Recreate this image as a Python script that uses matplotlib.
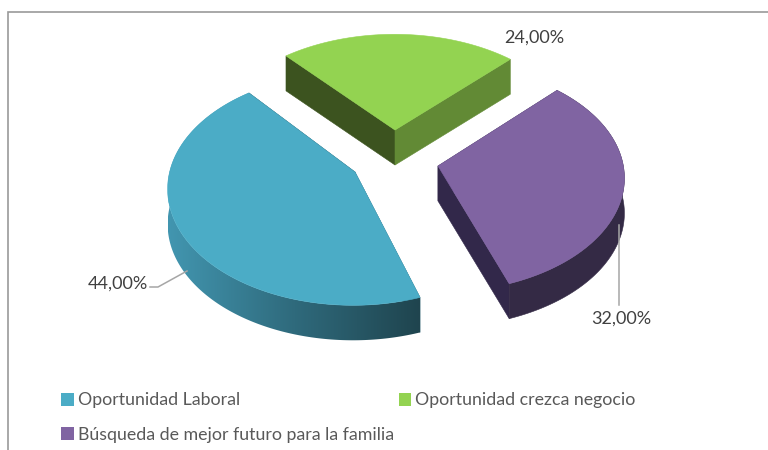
import numpy as np
import matplotlib
matplotlib.use("Agg")
import matplotlib.pyplot as plt
from matplotlib.patches import Polygon, Patch
from matplotlib.colors import LinearSegmentedColormap

categories = ["Oportunidad Laboral", "Oportunidad crezca negocio",
              "Búsqueda de mejor futuro para la familia"]
values = [44.0, 24.0, 32.0]
value_labels = ["44,00%", "24,00%", "32,00%"]

top_colors = ["#4bacc6", "#93d351", "#8064a2"]
face_first = ["#2d6274", "#3c531f", "#32284a"]
face_last = ["#1f444e", "#628a35", "#32284a"]
apexes = [(355, 172), (395, 130), (438, 166)]
arc_dx = [-2, -0.5, 1]
arc_dy = [-1.5, 0, -6]
ry_scale = [1.02, 1.0, 1.0]
angle_tweak = [0.9, -1, 0]
START = 161.0
RX, RY, PERSP, DEPTH = 183.0, 111.0, 0.16, 35.0
side_cmap = LinearSegmentedColormap.from_list(
    "side", ["#4296b0", "#2f6a7c", "#1f444e"])
side_colors = ["gradient", None, "#342a45"]

plt.rcParams["font.family"] = ["Lato", "DejaVu Sans"]
fig = plt.figure(figsize=(7.68, 4.5), dpi=100, facecolor="white")
ax = fig.add_axes([0, 0, 1, 1])
ax.axis("off")


def project(i, theta):
    t = np.radians(theta)
    u, v = np.sin(t), -np.cos(t)
    s = 1 / (1 - PERSP * v)
    return (apexes[i][0] + arc_dx[i] + RX * u * s,
            apexes[i][1] + arc_dy[i] + RY * ry_scale[i] * v * s)


ax.plot([8, 8, 768], [450, 12, 12], color="#9a9a9a", lw=1.2,
        solid_joinstyle="miter", zorder=0)

total = sum(values)
angle = START
for i, val in enumerate(values):
    sweep = 360 * val / total
    thetas = np.linspace(angle, angle + sweep, 200) + angle_tweak[i]
    xs, ys = project(i, thetas)
    ax_, ay_ = apexes[i]
    z = 2 + i
    # radial faces
    for (px, py), col in (((xs[0], ys[0]), face_first[i]),
                          ((xs[-1], ys[-1]), face_last[i])):
        ax.add_patch(Polygon([(ax_, ay_), (px, py), (px, py + DEPTH),
                              (ax_, ay_ + DEPTH)], closed=True,
                             fc=col, ec=col, lw=0.4, zorder=z))
    # curved side (the green slice shows only its back, which stays hidden)
    side_xy = np.column_stack([np.r_[xs, xs[::-1]],
                               np.r_[ys, ys[::-1] + DEPTH]])
    if side_colors[i] == "gradient":
        poly = Polygon(side_xy, closed=True, fc="none", ec="none",
                       transform=ax.transData)
        ax.add_patch(poly)
        im = ax.imshow(np.linspace(0, 1, 256)[None, :], cmap=side_cmap,
                       extent=[xs.min(), xs.max(), 450, 0], aspect="auto",
                       zorder=z + 0.2, interpolation="bilinear")
        im.set_clip_path(poly)
    elif side_colors[i] is not None:
        ax.add_patch(Polygon(side_xy, closed=True, fc=side_colors[i],
                             ec=side_colors[i], lw=0.4, zorder=z + 0.2))
    # top
    ax.add_patch(Polygon(np.column_stack([np.r_[ax_, xs], np.r_[ay_, ys]]),
                         closed=True, fc=top_colors[i], ec=top_colors[i],
                         lw=0.4, zorder=z + 0.5))
    angle += sweep

ax.set_xlim(0, 768)
ax.set_ylim(450, 0)

# leader lines
ax.plot([150, 158, 187], [287, 287, 271], color="#a6a6a6", lw=1.1, zorder=6)
ax.plot([618.5, 618.5], [225, 305], color="#a6a6a6", lw=1.1, zorder=6)

# data labels
lab_font = dict(fontsize=13, color="#404040", va="center", ha="center", zorder=7)
ax.text(118, 284, value_labels[0], **lab_font)
ax.text(534, 38, value_labels[1], **lab_font)
ax.text(621, 319, value_labels[2], **lab_font)

handles = [Patch(fc=top_colors[0], ec="none", label=categories[0]),
           Patch(fc=top_colors[2], ec="none", label=categories[2]),
           Patch(fc=top_colors[1], ec="none", label=categories[1])]
leg = ax.legend(handles=handles, ncol=2, loc="upper left",
                bbox_to_anchor=(61, 392.5), bbox_transform=ax.transData,
                frameon=False, fontsize=12.75, labelcolor="#595959",
                handlelength=0.72, handleheight=0.72, handletextpad=0.22,
                columnspacing=0.28, labelspacing=1.02,
                borderpad=0, borderaxespad=0)

fig.savefig("out.png", dpi=100, facecolor="white")
